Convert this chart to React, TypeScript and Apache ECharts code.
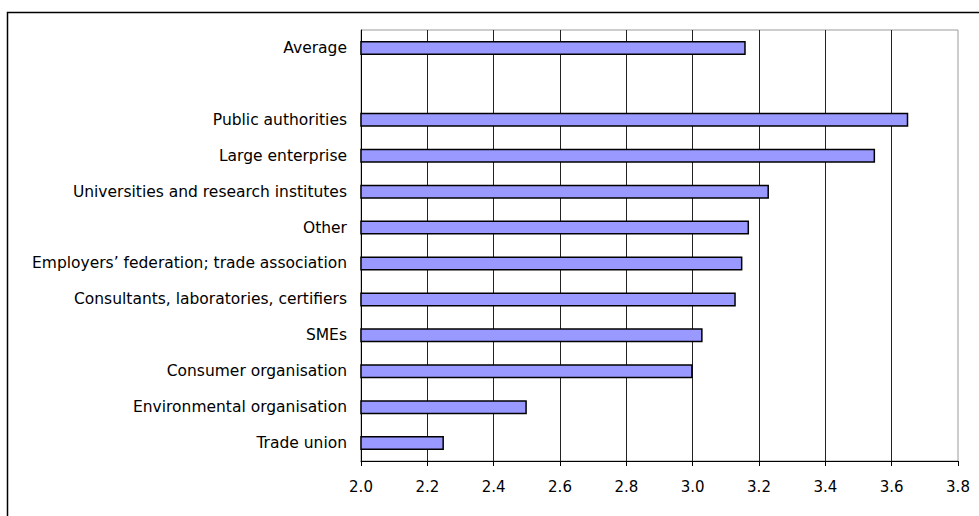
import React, { useEffect, useRef } from "react";
import * as echarts from "echarts";

const categories = [
  "Average",
  "",
  "Public authorities",
  "Large enterprise",
  "Universities and research institutes",
  "Other",
  "Employers\u2019 federation; trade association",
  "Consultants, laboratories, certifiers",
  "SMEs",
  "Consumer organisation",
  "Environmental organisation",
  "Trade union",
];

const values: (number | string)[] = [
  3.16, "-", 3.65, 3.55, 3.23, 3.17, 3.15, 3.13, 3.03, 3.0, 2.5, 2.25,
];

const xMin = 2.0;
const xMax = 3.8;
const xStep = 0.2;

const FONT = "'DejaVu Sans', 'Liberation Sans', Arial, sans-serif";

export default function App() {
  const ref = useRef<HTMLDivElement>(null);
  useEffect(() => {
    if (!ref.current) return;
    const chart = echarts.init(ref.current, null, { renderer: "svg" });
    chart.setOption({
      animation: false,
      backgroundColor: "#ffffff",
      graphic: [
        {
          type: "rect",
          shape: { x: 7.5, y: 12.5, width: 1100, height: 600 },
          style: { fill: "none", stroke: "#000", lineWidth: 1.5 },
          silent: true,
        },
      ],
      grid: {
        left: 361,
        right: 21,
        top: 30,
        bottom: 55,
        show: true,
        borderColor: "#9a9a9a",
        borderWidth: 1,
        backgroundColor: "transparent",
      },
      xAxis: {
        type: "value",
        min: xMin,
        max: xMax,
        interval: xStep,
        axisLine: { show: true, onZero: false, lineStyle: { color: "#000", width: 1 } },
        axisTick: { show: true, length: 5, lineStyle: { color: "#000" } },
        splitLine: {
          show: true,
          showMinLine: false,
          showMaxLine: false,
          lineStyle: { color: "#222", width: 1 },
        },
        axisLabel: {
          color: "#000",
          fontSize: 15,
          fontFamily: FONT,
          margin: 18,
          formatter: (v: number) => v.toFixed(1),
        },
      },
      yAxis: {
        type: "category",
        data: categories,
        inverse: true,
        axisLine: { show: true, lineStyle: { color: "#000", width: 1 } },
        axisTick: { show: false },
        axisLabel: {
          color: "#000",
          fontSize: 15.5,
          fontFamily: FONT,
          margin: 14,
        },
      },
      series: [
        {
          type: "bar",
          data: values,
          barWidth: 14,
          itemStyle: {
            color: "#9999ff",
            borderColor: "#000",
            borderWidth: 1.5,
          },
        },
      ],
    });
    return () => chart.dispose();
  }, []);
  return (
    <div
      ref={ref}
      style={{ position: "fixed", left: 0, top: 0, width: 979, height: 516 }}
    />
  );
}
